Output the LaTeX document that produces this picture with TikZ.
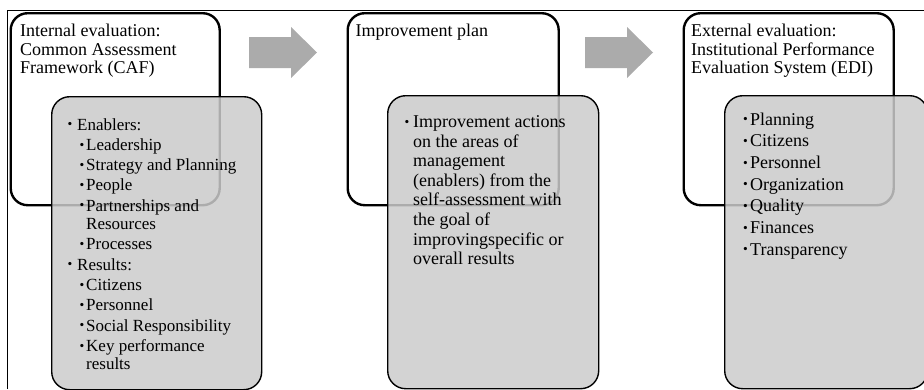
\documentclass[tikz,border=0pt]{standalone}
\usepackage{fontspec}
\setmainfont{Liberation Serif}
\definecolor{boxgray}{RGB}{203,203,203}
\definecolor{arrowgray}{RGB}{171,171,171}
% small raised bullet followed by its text, the text starting #1 after the bullet
\newcommand\smallbul{\raisebox{1.3pt}{\fontsize{13.5}{13.5}\selectfont\textbullet}}
\newcommand\bulitem[2]{\makebox[#1][l]{\hspace*{0.5pt}\smallbul}#2}
\begin{document}
\begin{tikzpicture}[x=1pt,y=-1pt,
  stagebox/.style={rectangle, draw=black, line width=2.4pt, fill=white,
    rounded corners=17pt, inner sep=0pt, anchor=north west, minimum height=192pt},
  detailbox/.style={rectangle, draw=black, line width=1.4pt, fill=boxgray,
    fill opacity=0.85, rounded corners=18pt, inner sep=0pt, anchor=north west,
    minimum height=293pt},
  titletext/.style={anchor=base west, inner sep=0pt},
  listtext/.style={anchor=base west, inner sep=0pt},
  flow/.style={fill=arrowgray, draw=none}]
\useasboundingbox (0,0) rectangle (924,389);

% outer frame
\draw[line width=1pt] (7.5,389) -- (7.5,10) -- (924,10);

% stage 1: internal evaluation
\node[stagebox, minimum width=209pt] (caf) at (9.5,12) {};
\node[titletext] (caftitle) at (20,36.5) {\parbox[t]{200pt}{\raggedright
  \fontsize{18}{18.5}\selectfont
  Internal evaluation:\\
  Common Assessment\\
  Framework (CAF)}};
\node[detailbox, minimum width=210pt] (cafdetail) at (51,96) {};
\node[listtext] (caflist) at (67,130) {\parbox[t]{190pt}{\raggedright
  \fontsize{17}{18.3}\selectfont
  \bulitem{10pt}{Enablers:}\\[2pt]
  \hspace*{12pt}\bulitem{7pt}{Leadership}\\[2pt]
  \hspace*{12pt}\bulitem{7pt}{Strategy and Planning}\\[2pt]
  \hspace*{12pt}\bulitem{7pt}{People}\\[2pt]
  \hspace*{12pt}\bulitem{7pt}{Partnerships and}\\
  \hspace*{19pt}Resources\\[2pt]
  \hspace*{12pt}\bulitem{7pt}{Processes}\\[2pt]
  \bulitem{10pt}{Results:}\\[2pt]
  \hspace*{12pt}\bulitem{7pt}{Citizens}\\[2pt]
  \hspace*{12pt}\bulitem{7pt}{Personnel}\\[2pt]
  \hspace*{12pt}\bulitem{7pt}{Social Responsibility}\\[2pt]
  \hspace*{12pt}\bulitem{7pt}{Key performance}\\
  \hspace*{19pt}results}};

% arrow to stage 2
\fill[flow] (249,37) -- (291,37) -- (291,27) -- (317,52.5) -- (291,78)
  -- (291,68) -- (249,68) -- cycle;

% stage 2: improvement plan
\node[stagebox, minimum width=211pt] (plan) at (346.5,12) {};
\node[titletext] (plantitle) at (355.5,36.5) {\parbox[t]{200pt}{\raggedright
  \fontsize{18}{18.5}\selectfont
  Improvement plan}};
\node[detailbox, minimum width=211pt] (plandetail) at (387,95) {};
\node[listtext] (planlist) at (404,127.5) {\parbox[t]{190pt}{\raggedright
  \fontsize{18}{19.6}\selectfont
  \bulitem{9pt}{Improvement actions}\\
  \hspace*{9pt}on the areas of\\
  \hspace*{9pt}management\\
  \hspace*{9pt}(enablers) from the\\
  \hspace*{9pt}self-assessment with\\
  \hspace*{9pt}the goal of\\
  \hspace*{9pt}improvingspecific or\\
  \hspace*{9pt}overall results}};

% arrow to stage 3
\fill[flow] (585,37) -- (627,37) -- (627,27) -- (653,52.5) -- (627,78)
  -- (627,68) -- (585,68) -- cycle;

% stage 3: external evaluation
\node[stagebox, minimum width=210pt] (edi) at (682.5,12) {};
\node[titletext] (editile) at (691,36.5) {\parbox[t]{220pt}{\raggedright
  \fontsize{18}{18.5}\selectfont
  External evaluation:\\
  Institutional Performance\\
  Evaluation System (EDI)}};
\node[detailbox, minimum width=203pt] (edidetail) at (724,95) {};
\node[listtext] (edilist) at (742.5,125) {\parbox[t]{180pt}{\raggedright
  \fontsize{18}{21.7}\selectfont
  \bulitem{7.5pt}{Planning}\\
  \bulitem{7.5pt}{Citizens}\\
  \bulitem{7.5pt}{Personnel}\\
  \bulitem{7.5pt}{Organization}\\
  \bulitem{7.5pt}{Quality}\\
  \bulitem{7.5pt}{Finances}\\
  \bulitem{7.5pt}{Transparency}}};
\end{tikzpicture}
\end{document}
